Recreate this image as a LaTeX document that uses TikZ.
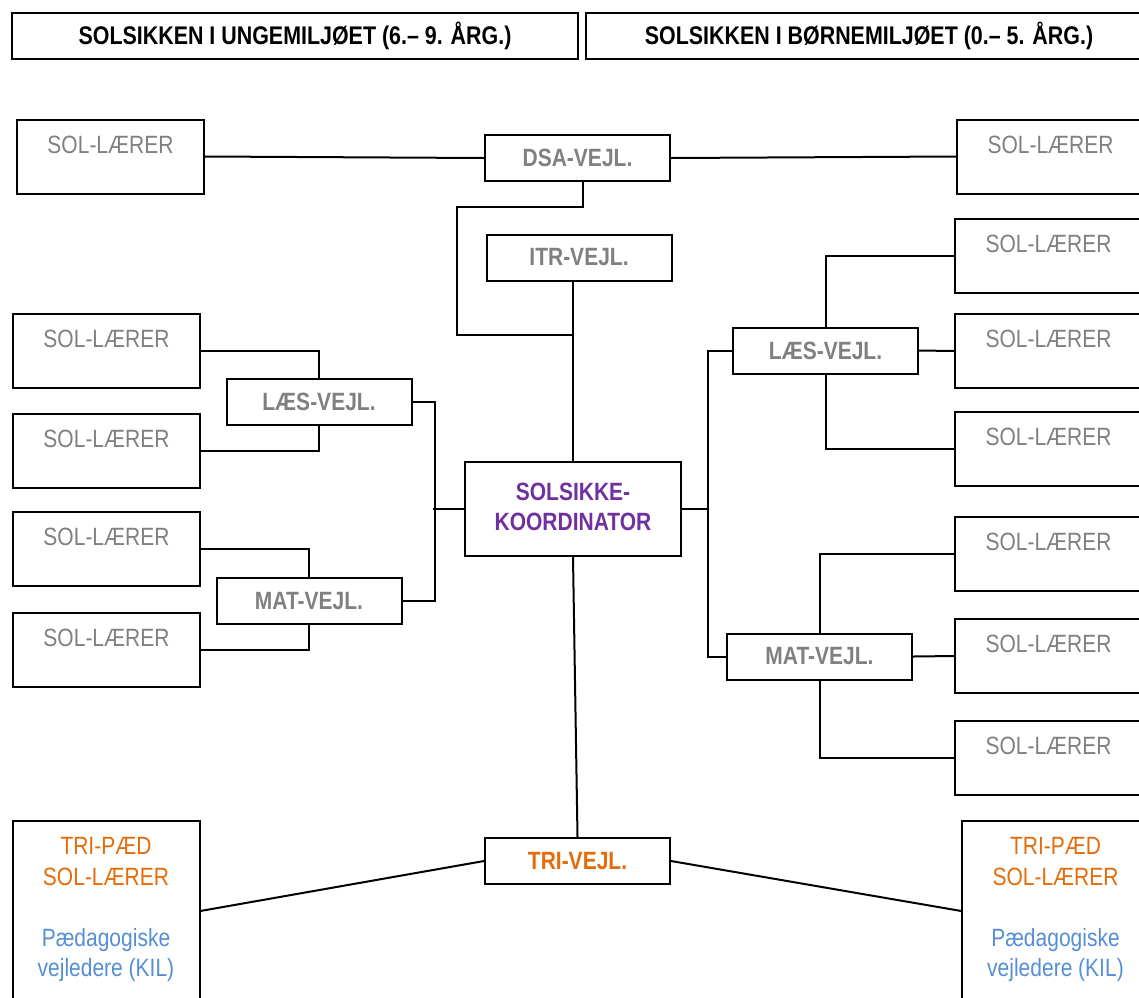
\documentclass[tikz,border=0pt]{standalone}
\usepackage{fontspec}
\setmainfont{Liberation Sans}[FakeStretch=0.84]
\usetikzlibrary{positioning}

\definecolor{solgray}{RGB}{128,128,128}
\definecolor{triorange}{RGB}{228,108,10}
\definecolor{kilblue}{RGB}{85,142,213}
\definecolor{koordpurple}{RGB}{112,48,160}

\begin{document}
\begin{tikzpicture}[x=0.5pt,y=-0.5pt,line width=1pt,
headbox/.style={draw, minimum width=283pt, minimum height=23pt, inner sep=0pt, font=\fontsize{12.75}{15}\selectfont\bfseries},
solbox/.style={draw, minimum width=93.5pt, inner xsep=0pt, inner ysep=8pt, text height=8.95pt, text depth=12.05pt, text=solgray, font=\fontsize{12.5}{15}\selectfont},
vejlbox/.style={draw, minimum width=92.5pt, minimum height=23pt, inner sep=0pt, text=solgray, font=\fontsize{12.5}{15}\selectfont\bfseries},
koordbox/.style={draw, minimum width=108pt, minimum height=47pt, text=koordpurple, font=\fontsize{12.5}{15}\selectfont\bfseries},
tribox/.style={draw, anchor=north, minimum width=93.5pt, inner xsep=0pt, inner ysep=8pt, text height=8.95pt, text depth=70pt, font=\fontsize{12.5}{15.25}\selectfont},
]
\useasboundingbox (0,0) rectangle (1139,997);

\node[headbox] (headL) at (295,36) {SOLSIKKEN I UNGEMILJØET (6.– 9. ÅRG.)};
\node[headbox, right=3pt of headL] (headR) {SOLSIKKEN I BØRNEMILJØET (0.– 5. ÅRG.)};

\node[solbox] (solTL) at (110.5,156.5) {SOL-LÆRER};
\node[vejlbox] (dsa) at (577.5,158) {DSA-VEJL.};
\node[solbox] (solTR) at (1050.5,156.5) {SOL-LÆRER};
\node[vejlbox] (itr) at (579,257.5) {ITR-VEJL.};

\node[koordbox] (koord) at (573,509) {\begin{tabular}{@{}c@{}}SOLSIKKE-\\KOORDINATOR\end{tabular}};

% left side
\node[solbox] (solL1) at (106.5,350.5) {SOL-LÆRER};
\node[solbox, below=12.25pt of solL1] (solL2) {SOL-LÆRER};
\node[solbox, below=10.75pt of solL2] (solL3) {SOL-LÆRER};
\node[solbox, below=12.75pt of solL3] (solL4) {SOL-LÆRER};
\node[vejlbox] (laesL) at (319,401.5) {LÆS-VEJL.};
\node[vejlbox] (matL) at (309,601) {MAT-VEJL.};

% right side
\node[solbox] (solR1) at (1048.5,256) {SOL-LÆRER};
\node[solbox, below=9.5pt of solR1] (solR2) {SOL-LÆRER};
\node[solbox, below=11pt of solR2] (solR3) {SOL-LÆRER};
\node[solbox, below=14.5pt of solR3] (solR4) {SOL-LÆRER};
\node[solbox, below=13pt of solR4] (solR5) {SOL-LÆRER};
\node[solbox, below=13pt of solR5] (solR6) {SOL-LÆRER};
\node[vejlbox] (laesR) at (825.5,350.5) {LÆS-VEJL.};
\node[vejlbox] (matR) at (819.5,656.5) {MAT-VEJL.};

% bottom
\node[vejlbox, text=triorange] (tri) at (577.5,861) {TRI-VEJL.};
\node[tribox] (triL) at (106,820) {\begin{tabular}[t]{@{}c@{}}\textcolor{triorange}{TRI-PÆD}\\ \textcolor{triorange}{SOL-LÆRER}\\[15.25pt] \textcolor{kilblue}{Pædagogiske}\\ \textcolor{kilblue}{vejledere (KIL)}\end{tabular}};
\node[tribox] (triR) at (1055.5,820) {\begin{tabular}[t]{@{}c@{}}\textcolor{triorange}{TRI-PÆD}\\ \textcolor{triorange}{SOL-LÆRER}\\[15.25pt] \textcolor{kilblue}{Pædagogiske}\\ \textcolor{kilblue}{vejledere (KIL)}\end{tabular}};

\coordinate (itrj) at (koord.north |- 0,335);
\coordinate (kr) at ([xshift=13pt]koord.east);

\draw (solTL.east) -- (dsa.west);
\draw (dsa.east) -- (solTR.west);
\draw ([xshift=2.5pt]dsa.south) |- (457,207) -- (457,335) -- (itrj);
\draw (koord.north) -- (koord.north |- itr.south);

\draw (solL1.east) -| (laesL.north);
\draw (solL2.east) -| (laesL.south);
\draw (solL3.east) -| (matL.north);
\draw (solL4.east) -| (matL.south);
\draw (laesL.east) -- ++(22,0) |- (matL.east);
\draw (koord.west) -- ++(-31,0);

\draw (koord.east) -- (kr);
\draw (kr) |- (laesR.west);
\draw (kr) |- (matR.west);
\draw (laesR.north) |- (solR1.west);
\draw (laesR.east) -- (solR2.west);
\draw (laesR.south) |- (solR3.west);
\draw (matR.north) |- (solR4.west);
\draw (matR.east) -- (solR5.west);
\draw (matR.south) |- (solR6.west);

% Label
\draw (koord.south) -- (tri.north);
\draw (tri.west) -- ([yshift=2.5pt]triL.east);
\draw (tri.east) -- ([yshift=2.5pt]triR.west);

\end{tikzpicture}
\end{document}
